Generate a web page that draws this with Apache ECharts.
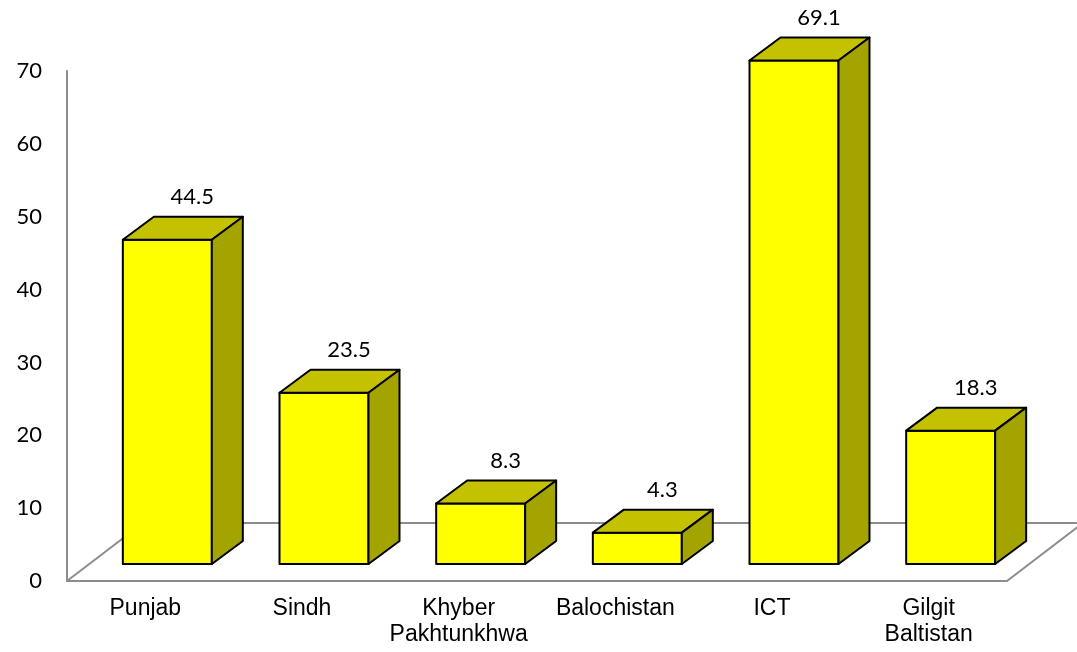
<!DOCTYPE html>
<html><head><meta charset="utf-8">
<script src="https://cdn.jsdelivr.net/npm/echarts@6/dist/echarts.min.js"></script>
<style>html,body{margin:0;padding:0;background:#fff}#c{width:1077px;height:652px}</style>
</head><body><div id="c"></div>
<script>
var categories = ['Punjab', 'Sindh', 'Khyber\nPakhtunkhwa', 'Balochistan', 'ICT', 'Gilgit\nBaltistan'];
var values = [44.5, 23.5, 8.3, 4.3, 69.1, 18.3];
var yTicks = { min: 0, max: 70, interval: 10 };

var FRONT = '#FFFF00', TOP = '#C4C200', SIDE = '#A4A400', EDGE = '#000000', GRID = '#8c8c8c';
// 3D projection offsets (pixels)
var FLOOR_DX = 76, FLOOR_DY = -58;
var FACE_DX = 22, FACE_DY = -17;
var DEPTH_DX = 31, DEPTH_DY = -23;

var chart = echarts.init(document.getElementById('c'));

function renderBar(params, api) {
  var idx = api.value(0), v = api.value(1);
  var base = api.coord([idx, 0]);
  var top = api.coord([idx, v]);
  var band = api.size([1, 0])[0];
  var w = band * 0.568;
  var cx = base[0] + FACE_DX;
  var x0 = cx - w / 2, x1 = cx + w / 2;
  var yb = base[1] + FACE_DY, yt = top[1] + FACE_DY;
  var lw = 2;
  return {
    type: 'group',
    children: [
      { type: 'polygon', shape: { points: [[x0, yb], [x1, yb], [x1, yt], [x0, yt]] },
        style: { fill: FRONT, stroke: EDGE, lineWidth: lw, lineJoin: 'round' } },
      { type: 'polygon', shape: { points: [[x0, yt], [x1, yt], [x1 + DEPTH_DX, yt + DEPTH_DY], [x0 + DEPTH_DX, yt + DEPTH_DY]] },
        style: { fill: TOP, stroke: EDGE, lineWidth: lw, lineJoin: 'round' } },
      { type: 'polygon', shape: { points: [[x1, yb], [x1 + DEPTH_DX, yb + DEPTH_DY], [x1 + DEPTH_DX, yt + DEPTH_DY], [x1, yt]] },
        style: { fill: SIDE, stroke: EDGE, lineWidth: lw, lineJoin: 'round' } },
      { type: 'text', x: cx + 25, y: yt + DEPTH_DY - 20,
        style: { text: String(v), fill: '#000', font: '22px Lato', align: 'center', verticalAlign: 'middle' } }
    ]
  };
}

function renderFloor(params, api) {
  var cs = params.coordSys;
  var xl = cs.x, xr = cs.x + cs.width, yf = cs.y + cs.height;
  return {
    type: 'group',
    children: [
      { type: 'line', shape: { x1: xl, y1: yf, x2: xl + FLOOR_DX, y2: yf + FLOOR_DY }, style: { stroke: GRID, lineWidth: 2 } },
      { type: 'line', shape: { x1: xl + FLOOR_DX, y1: yf + FLOOR_DY, x2: xr + FLOOR_DX, y2: yf + FLOOR_DY }, style: { stroke: GRID, lineWidth: 2 } },
      { type: 'line', shape: { x1: xr, y1: yf, x2: xr + FLOOR_DX, y2: yf + FLOOR_DY }, style: { stroke: GRID, lineWidth: 2 } }
    ]
  };
}

chart.setOption({
  animation: false,
  grid: { left: 67, right: 70, top: 71, bottom: 71 },
  xAxis: {
    type: 'category', data: categories,
    axisLine: { show: true, lineStyle: { color: GRID, width: 2 } },
    axisTick: { show: false },
    axisLabel: { color: '#000', fontFamily: 'Liberation Sans', fontSize: 23, lineHeight: 26, margin: 15, interval: 0 }
  },
  yAxis: {
    type: 'value', min: yTicks.min, max: yTicks.max, interval: yTicks.interval,
    axisLine: { show: true, lineStyle: { color: GRID, width: 2 } },
    axisTick: { show: false },
    splitLine: { show: false },
    axisLabel: { color: '#000', fontFamily: 'Lato', fontSize: 22, margin: 25 }
  },
  series: [
    { type: 'custom', z: 1, clip: false, renderItem: renderFloor, data: [[0, 0]], silent: true },
    { type: 'custom', z: 5, clip: false, renderItem: renderBar,
      encode: { x: 0, y: 1 },
      data: values.map(function (v, i) { return [i, v]; }) }
  ]
});
</script></body></html>
